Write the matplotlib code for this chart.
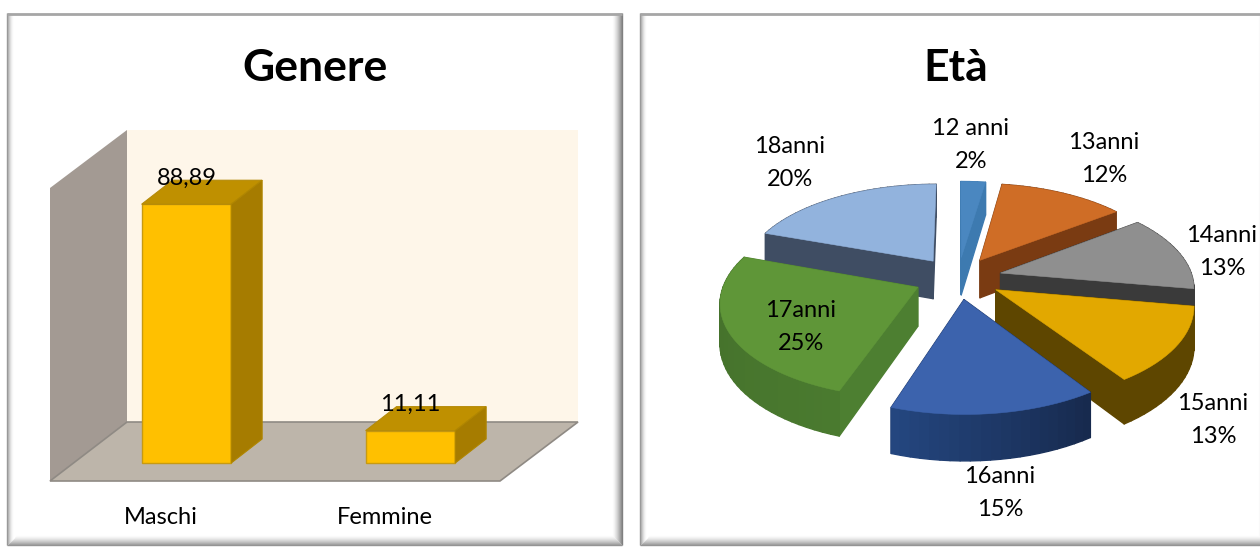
import numpy as np
import matplotlib
matplotlib.use("Agg")
import matplotlib.pyplot as plt
from matplotlib.colors import to_rgb
from matplotlib.patches import Polygon

plt.rcParams['font.family'] = ['Lato', 'DejaVu Sans']

genders = ['Maschi', 'Femmine']
gender_values = [88.89, 11.11]
gender_labels = ['88,89', '11,11']

ages = ['12 anni', '13anni', '14anni', '15anni', '16anni', '17anni', '18anni']
age_percent = [2.4, 12.3, 13.0, 12.9, 14.6, 25.2, 19.6]

top_colors = ['#4a87c0', '#cf6d26', '#8f8f8f', '#e2a800', '#3c63ad', '#5f9638', '#92b3dd']
rim_colors = [('#3d7ab0', '#3d7ab0'), ('#7a3b12', '#7a3b12'), ('#3a3a3a', '#3a3a3a'),
              ('#5e4600', '#5e4600'), ('#172a4e', '#24467f'), ('#4a7a2f', '#436e2a'),
              ('#3f4d63', '#3f4d63')]
cut_colors = ['#3d7ab0', '#7a3b12', '#3a3a3a', '#5e4600', '#1d3664', '#4d7f31', '#3f4d63']
label_xy = [(971, 145), (1104, 159), (1222, 252), (1213, 420), (1000, 493), (801, 327), (790, 163)]

W, H = 1260, 547
fig = plt.figure(figsize=(W / 100, H / 100), dpi=100, facecolor='white')
bg = fig.add_axes([0, 0, 1, 1])
bg.set_xlim(0, W)
bg.set_ylim(H, 0)
bg.axis('off')


def frame(x0, x1, y0, y1):
    # thin top line, soft shading on the other sides
    for i in range(10, -1, -1):
        g = 1 - 0.5 * (1 - i / 10) ** 1.5
        bg.plot([x1 - i, x1 - i], [y0, y1 - i], color=str(g), lw=1, solid_capstyle='butt')
    for i in range(10, -1, -1):
        g = 1 - 0.42 * (1 - i / 10) ** 1.5
        bg.plot([x0 + i, x1 - i], [y1 - i, y1 - i], color=str(g), lw=1, solid_capstyle='butt')
    for i in range(8):
        g = 1 - 0.42 * (1 - i / 7) ** 2
        bg.plot([x0 + i, x0 + i], [y0, y1 - i], color=str(g), lw=1, solid_capstyle='butt')
    bg.plot([x0, x1], [y0 + 1, y0 + 1], color='#a6a6a6', lw=2, solid_capstyle='butt')


frame(7, 622, 13, 545)
frame(640, 1268, 13, 545)

# walls of the column chart
bg.add_patch(Polygon([(127, 130), (578, 130), (578, 422), (127, 422)], fc='#fef6e9', ec='none'))
bg.add_patch(Polygon([(50, 188), (127, 130), (127, 422), (50, 481)], fc='#a39a93', ec='none'))
bg.add_patch(Polygon([(50, 481), (127, 422), (578, 422), (500, 481)], fc='#bdb5aa', ec='#8f8a84', lw=1.2))

bg.text(315, 68, 'Genere', ha='center', va='center', fontsize=32, fontweight='bold', color='black')
bg.text(956, 68, 'Età', ha='center', va='center', fontsize=32, fontweight='bold', color='black')

# columns, on their own scale
ax = fig.add_axes([50 / W, 1 - 481 / H, 528 / W, 351 / H])
ax.set_xlim(-0.609, 1.748)
ax.set_ylim(-6.19, 114.4)
ax.axis('off')
dx, dy = 0.138, 8.25
x_pos = np.arange(len(genders))
bar_w = 0.4
ax.bar(x_pos, gender_values, bar_w, color='#ffc000', edgecolor='#c79a12', lw=1)
for x, v, lab, name in zip(x_pos, gender_values, gender_labels, genders):
    l, r = x - bar_w / 2, x + bar_w / 2
    ax.add_patch(Polygon([(l, v), (r, v), (r + dx, v + dy), (l + dx, v + dy)], fc='#bf9000', ec='#b58a08', lw=0.8))
    ax.add_patch(Polygon([(r, 0), (r, v), (r + dx, v + dy), (r + dx, dy)], fc='#a67c00', ec='#b08600', lw=0.8))
    ax.text(x, v + 9.0, lab, ha='center', va='center', fontsize=17, color='black', zorder=5)
    ax.text(x - 0.116, -18.9, name, ha='center', va='center', fontsize=17, color='black', clip_on=False)

# exploded pie with perspective
cx, cy = 958, 278
R, B, k = 192, 92, 0.14
explode = 0.23
depth = 38.5


def project(X, Z):
    s = 1 / (1 - k * Z)
    return cx + R * X * s, cy + B * Z * s, s


def lerp(c1, c2, t):
    c1, c2 = np.array(to_rgb(c1)), np.array(to_rgb(c2))
    return tuple(c1 + (c2 - c1) * t)


edges = np.cumsum([0] + age_percent) / sum(age_percent) * 2 * np.pi
pieces = []
for i in range(len(ages)):
    t0, t1 = edges[i], edges[i + 1]
    mid = (t0 + t1) / 2
    ox, oz = explode * np.sin(mid), -explode * np.cos(mid)
    ts = np.linspace(t0, t1, max(4, int((t1 - t0) * 25)))
    rim = [project(ox + np.sin(t), oz - np.cos(t)) for t in ts]
    apex = project(ox, oz)
    pieces.append((oz, i, apex, rim))

# back slices first
for oz, i, apex, rim in sorted(pieces, key=lambda p: p[0]):
    quads = []
    pts = [apex] + rim + [apex]
    n = len(pts) - 1
    for j in range(n):
        a, b = pts[j], pts[j + 1]
        q = [(a[0], a[1]), (b[0], b[1]), (b[0], b[1] + depth * b[2]), (a[0], a[1] + depth * a[2])]
        if j == 0 or j == n - 1:
            col = cut_colors[i]
        else:
            col = lerp(rim_colors[i][0], rim_colors[i][1], (j - 1) / max(n - 3, 1))
        quads.append(((a[1] + b[1]) / 2, q, col))
    for _, q, col in sorted(quads, key=lambda q: q[0]):
        bg.add_patch(Polygon(q, fc=col, ec=col, lw=1.0, joinstyle='round'))
    bg.add_patch(Polygon([(p[0], p[1]) for p in [apex] + rim], fc=top_colors[i], ec=top_colors[i], lw=0.4))

for name, pct, (lx, ly) in zip(ages, age_percent, label_xy):
    bg.text(lx, ly, f'{name}\n{pct:.0f}%', ha='center', va='center', fontsize=17, linespacing=1.72, color='black')

fig.savefig('out.png', dpi=100, facecolor='white')
